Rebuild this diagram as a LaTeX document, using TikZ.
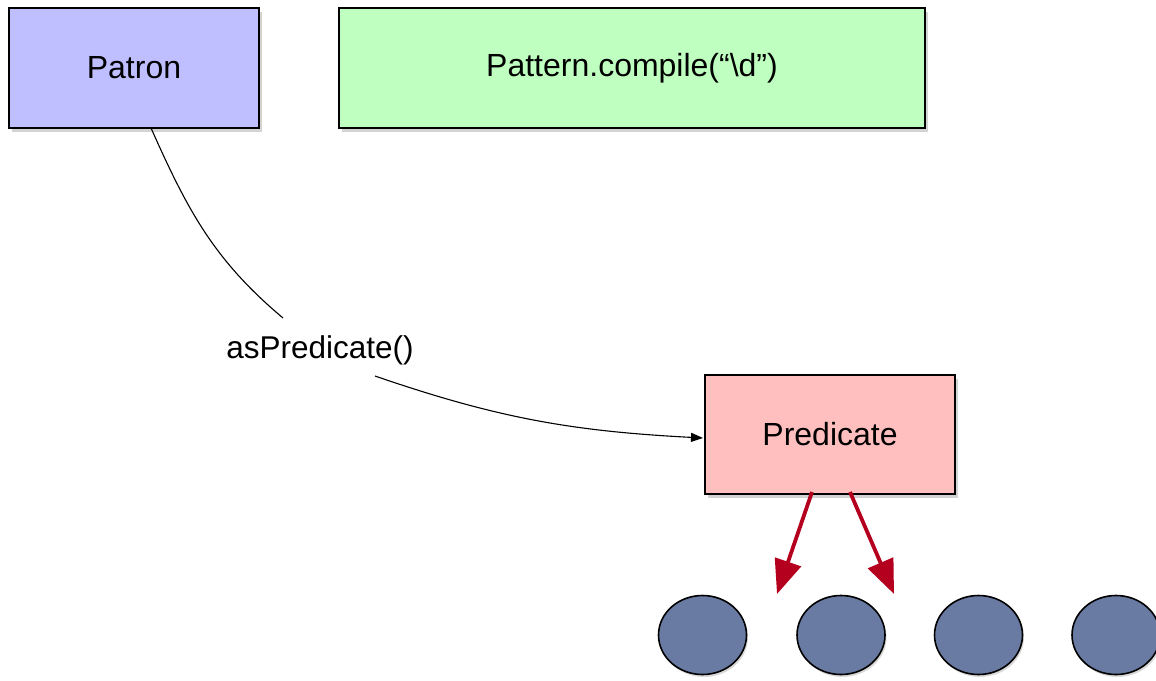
\documentclass[tikz,border=0pt]{standalone}
\usepackage{fontspec}
\setmainfont{Liberation Sans}
\usetikzlibrary{arrows.meta,shadows,shapes.geometric}

\definecolor{patronfill}{RGB}{191,191,255}
\definecolor{patternfill}{RGB}{191,255,191}
\definecolor{predfill}{RGB}{255,191,191}
\definecolor{itemfill}{RGB}{106,123,163}
\definecolor{redarrow}{RGB}{180,0,30}

\tikzset{
  box/.style={draw=black, line width=1.6pt, minimum height=120pt,
    font=\fontsize{32}{38}\selectfont,
    drop shadow={shadow xshift=2.5pt, shadow yshift=-3.5pt, opacity=0.35}},
  item/.style={ellipse, draw=black, line width=1.6pt, fill=itemfill,
    minimum width=88pt, minimum height=79pt, inner sep=0pt,
    drop shadow={shadow xshift=1.5pt, shadow yshift=-2.5pt, opacity=0.3}},
  thin link/.style={line width=1.1pt, -{Triangle[length=12pt,width=9pt]}},
  plain link/.style={line width=1.1pt},
  red link/.style={draw=redarrow, line width=3.8pt,
    -{Triangle[length=34pt,width=27pt]}},
}

\begin{document}
\begin{tikzpicture}[x=1pt,y=-1pt]
  \useasboundingbox (0,0) rectangle (1156,680);
  \clip (0,0) rectangle (1156,680);

  % boxes
  \node[box, fill=patronfill, minimum width=250pt] (patron) at (134,68) {Patron};
  \node[box, fill=patternfill, minimum width=586pt] (pattern) at (632,68) {Pattern.compile(“\textbackslash d”)};
  \node[box, fill=predfill, minimum width=250pt, minimum height=119pt] (pred) at (830,434.5) {Predicate};

  % elements
  \node[item] (e1) at (702.5,635) {};
  \node[item] (e2) at (841,635) {};
  \node[item] (e3) at (978.5,635) {};
  \node[item] (e4) at (1116,635) {};

  % method label
  \node[font=\fontsize{31.5}{36}\selectfont, inner sep=0pt] (lbl) at (320,350) {asPredicate()};

  % connector ends
  \coordinate (c1) at (151,128);
  \coordinate (c2) at (283,318);
  \coordinate (c3) at (375,376);
  \coordinate (c4) at (703,438);
  \coordinate (r1s) at (812,492);
  \coordinate (r1e) at (777,594);
  \coordinate (r2s) at (850,492);
  \coordinate (r2e) at (894,594);

  \draw[plain link] (c1) to[out=-66,in=140] (c2);
  \draw[thin link] (c3) to[out=-19,in=177] (c4);

  \draw[red link] (r1s) -- (r1e);
  \draw[red link] (r2s) -- (r2e);
\end{tikzpicture}
\end{document}
